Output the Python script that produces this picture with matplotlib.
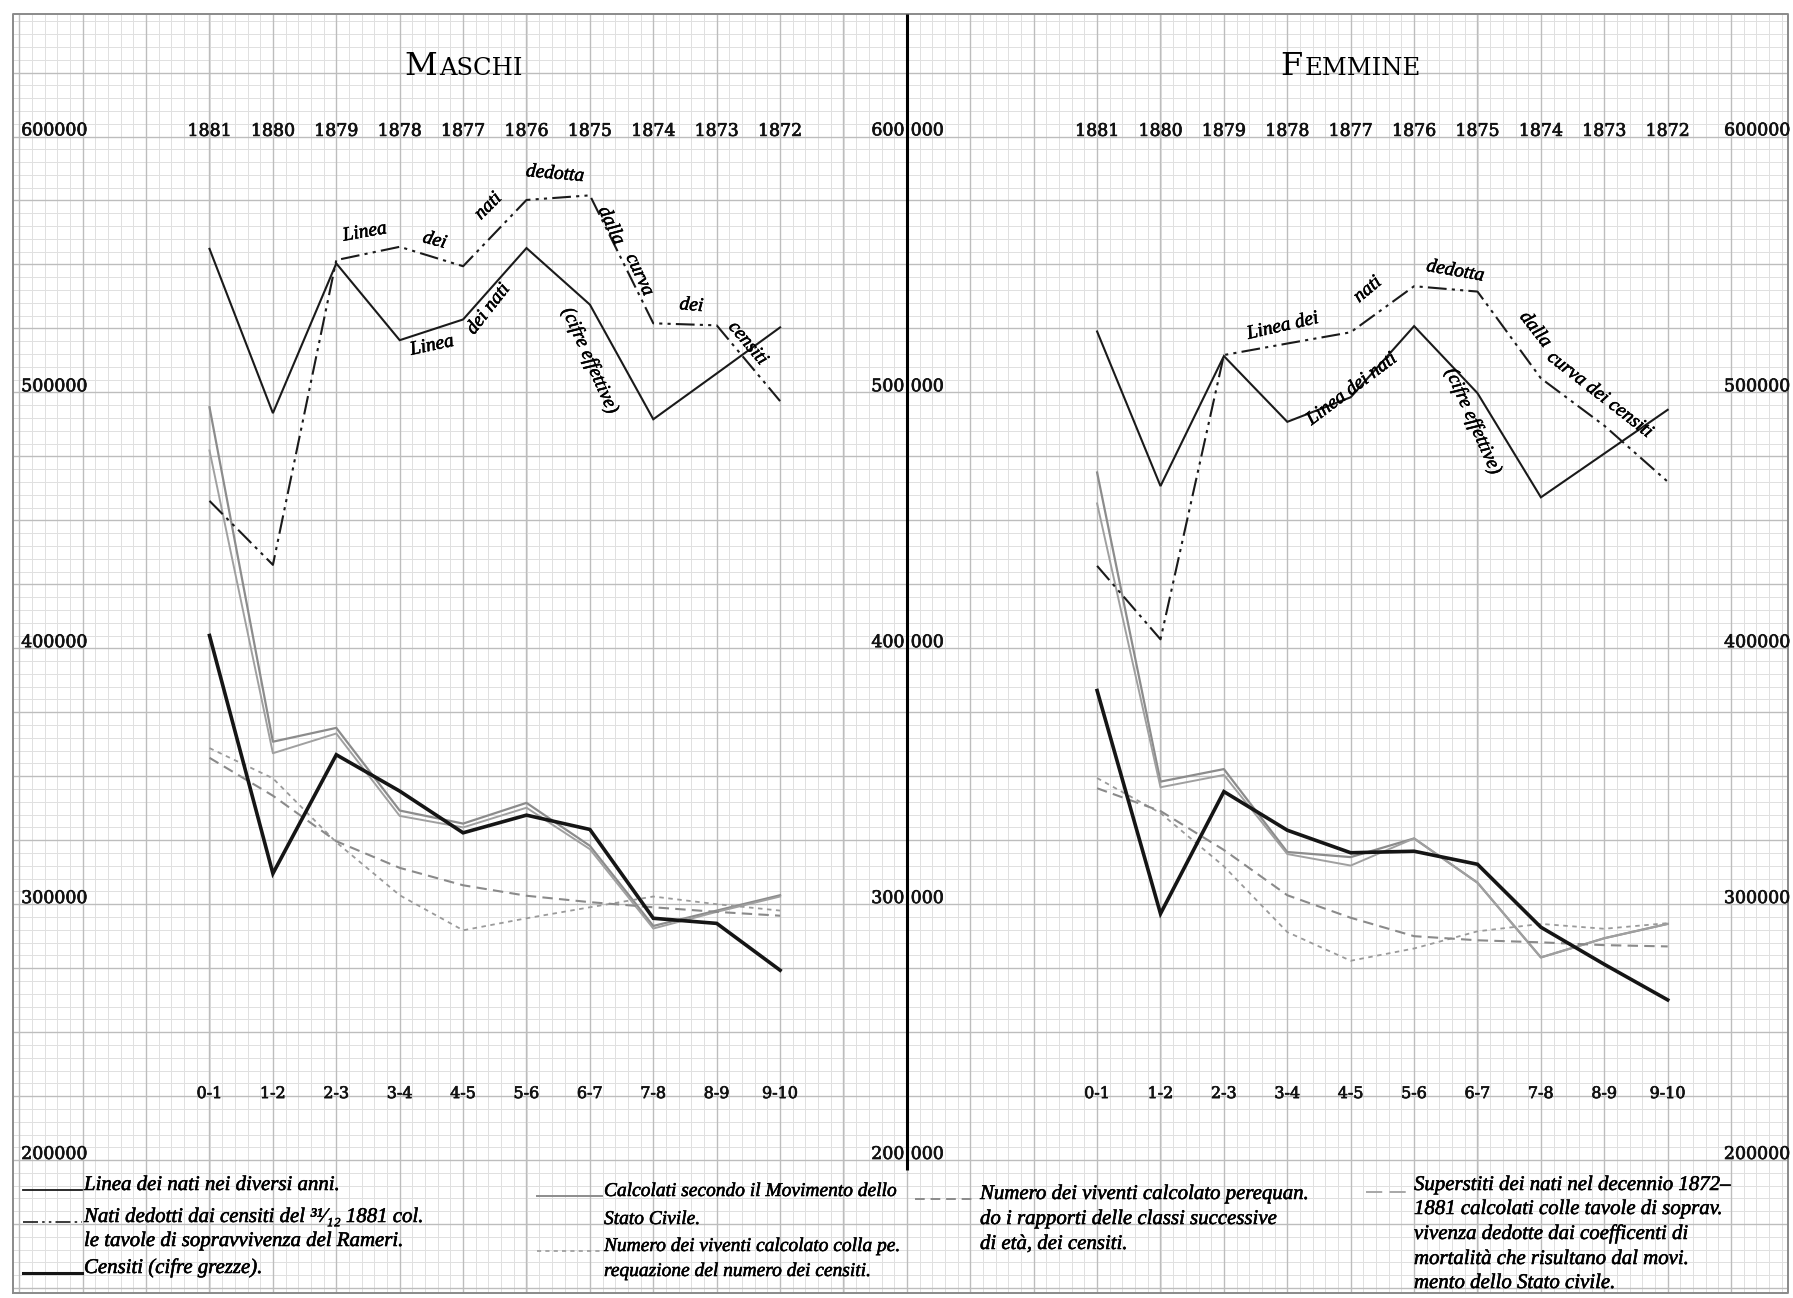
import matplotlib
matplotlib.use("Agg")
import matplotlib.pyplot as plt
import matplotlib.patheffects as pe
from matplotlib.lines import Line2D
import numpy as np

# ---------------------------------------------------------------- data
years = ["1881", "1880", "1879", "1878", "1877", "1876", "1875", "1874", "1873", "1872"]
ages = ["0-1", "1-2", "2-3", "3-4", "4-5", "5-6", "6-7", "7-8", "8-9", "9-10"]
y_ticks = [600000, 500000, 400000, 300000, 200000]

# Maschi
m_nati = [556100, 491900, 550400, 520400, 528500, 556400, 534300, 489500, 507400, 525400]
m_nati_dedotti = [457600, 432600, 551700, 556900, 549300, 575200, 577000, 527000, 526200, 496600]
m_censiti = [405000, 312000, 358400, 344200, 327900, 334800, 329200, 294500, 292500, 274200]
m_movimento = [494200, 363500, 368900, 336600, 331500, 339600, 322800, 291500, 297500, 303500]
m_superstiti = [477300, 359000, 366700, 334500, 330000, 337700, 321500, 290500, 297000, 303000]
m_perequazione = [361000, 349200, 324200, 303500, 289800, 294500, 298800, 303000, 300000, 297500]
m_rapporti = [357200, 342400, 324600, 314200, 307400, 303300, 300800, 298800, 297000, 295500]

# Femmine
f_nati = [523800, 463400, 514200, 488500, 498100, 525900, 499700, 459000, 476100, 493200]
f_nati_dedotti = [432200, 403500, 514600, 519100, 523500, 541500, 539400, 505500, 487000, 465100]
f_censiti = [383500, 296300, 344000, 328900, 320100, 320700, 315600, 291000, 276500, 262600]
f_movimento = [468700, 347900, 352800, 320400, 318400, 325700, 308400, 279200, 286700, 292300]
f_superstiti = [456600, 345700, 350500, 319600, 315100, 325700, 308400, 279200, 286700, 292300]
f_perequazione = [349300, 335600, 314800, 289100, 277900, 282700, 289400, 292300, 290400, 292600]
f_rapporti = [345300, 336400, 321200, 303500, 294700, 287500, 285900, 285100, 284000, 283500]

# ---------------------------------------------------------------- page geometry
W, H, DPI = 1793, 1298, 100
CELL = 63.4            # pixels per major square (one year / age class)
X_ORIGIN = 209.5       # pixel column of the first class of the left panel
PX_PER_100K = 255.9    # vertical pixels per 100 000 inhabitants
Y600_PX = 136.5        # pixel row of the 600 000 line
RIGHT_OFFSET = 14      # squares between the two panels

x0 = -X_ORIGIN / CELL
x1 = x0 + W / CELL
y1 = 600000 + Y600_PX / PX_PER_100K * 1e5
y0 = y1 - H / PX_PER_100K * 1e5

fig = plt.figure(figsize=(W / DPI, H / DPI), dpi=DPI)
fig.patch.set_facecolor("white")
ax = fig.add_axes([0, 0, 1, 1])
ax.set_xlim(x0, x1)
ax.set_ylim(y0, y1)
ax.axis("off")

SERIF = ["DejaVu Serif"]
SCRIPT = ["Liberation Serif", "DejaVu Serif"]
INK = [pe.withStroke(linewidth=0.5, foreground="#111111")]

# ---------------------------------------------------------------- graph paper
gx_lo, gx_hi = -3.1, 24.9
gy_lo, gy_hi = 148000, 648000
minor_x = np.arange(-3.0, 24.95, 0.2)
major_x = np.arange(-3, 25, 1)
minor_y = np.arange(150000, 648001, 5000)
major_y = np.arange(150000, 648001, 25000)
ax.vlines(minor_x, gy_lo, gy_hi, color="#e0e0e0", lw=0.7, zorder=0)
ax.hlines(minor_y, gx_lo, gx_hi, color="#e0e0e0", lw=0.7, zorder=0)
ax.vlines(major_x, gy_lo, gy_hi, color="#bdbdbd", lw=1.0, zorder=0.5)
ax.hlines(major_y, gx_lo, gx_hi, color="#bdbdbd", lw=1.0, zorder=0.5)
# frame of the sheet
ax.plot([gx_lo, gx_hi, gx_hi, gx_lo, gx_lo], [gy_lo, gy_lo, gy_hi, gy_hi, gy_lo],
        color="#8a8a8a", lw=1.4, zorder=1)
# central dividing rule
ax.vlines(11, 196000, gy_hi, color="black", lw=2.2, zorder=3)

# ---------------------------------------------------------------- axis labels
num_kw = dict(family=SERIF, fontsize=12.5, va="center", color="#111111", path_effects=INK)
for v in y_ticks:
    s = f"{v}"
    ax.text(-2.97, v + 2200, s, ha="left", **num_kw)
    ax.text(24.93, v + 2200, s, ha="right", **num_kw)
    ax.text(10.96, v + 2200, s[:3], ha="right", **num_kw)
    ax.text(11.06, v + 2200, s[3:], ha="left", **num_kw)

idx = np.arange(len(years))
for off in (0, RIGHT_OFFSET):
    for i, (yr, ag) in enumerate(zip(years, ages)):
        ax.text(i + off, 602000, yr, ha="center", **num_kw)
        ax.text(i + off, 226000, ag, ha="center",
                **{**num_kw, "fontsize": 11.5})

# titles in small capitals
renderer = fig.canvas.get_renderer()
for cx, big, small in ((4.0, "M", "ASCHI"), (18.0, "F", "EMMINE")):
    t1 = ax.text(cx, 624000, big, family=SERIF, fontsize=23, ha="left", va="baseline")
    t2 = ax.text(cx, 624000, small, family=SERIF, fontsize=17.5, ha="left", va="baseline")
    w1 = t1.get_window_extent(renderer).width
    w2 = t2.get_window_extent(renderer).width
    tot = (w1 + w2 + 2) / CELL
    t1.set_x(cx - tot / 2)
    t2.set_x(cx - tot / 2 + (w1 + 2) / CELL)

# ---------------------------------------------------------------- series
DASHDOT = (0, (9, 2.5, 1.5, 2.5, 1.5, 2.5))
GREY = "#8c8c8c"

def draw_panel(off, nati, dedotti, censiti, movimento, superstiti, pereq, rapporti):
    xs = idx + off
    ax.plot(xs, nati, color="#1a1a1a", lw=1.5, zorder=5, solid_joinstyle="miter")
    ax.plot(xs, dedotti, color="#1a1a1a", lw=1.5, linestyle=DASHDOT, zorder=5)
    ax.plot(xs, movimento, color=GREY, lw=1.6, zorder=4)
    ax.plot(xs, superstiti, color="#a0a0a0", lw=1.4, zorder=4)
    ax.plot(xs, pereq, color="#9a9a9a", lw=1.3, linestyle=(0, (2.5, 2.5)), zorder=4)
    ax.plot(xs, rapporti, color="#8a8a8a", lw=1.5, linestyle=(0, (5, 3)), zorder=4)
    ax.plot(xs, censiti, color="#151515", lw=2.6, zorder=6, solid_joinstyle="miter")

draw_panel(0, m_nati, m_nati_dedotti, m_censiti, m_movimento, m_superstiti,
           m_perequazione, m_rapporti)
draw_panel(RIGHT_OFFSET, f_nati, f_nati_dedotti, f_censiti, f_movimento, f_superstiti,
           f_perequazione, f_rapporti)

# ---------------------------------------------------------------- notes along the lines
notes = [
    # Maschi
    (2.45, 562500, "Linea", 10),
    (3.55, 559300, "dei", -15),
    (4.40, 572700, "nati", 45),
    (5.45, 585300, "dedotta", -5),
    (6.33, 565100, "dalla", -65),
    (6.78, 545900, "curva", -65),
    (7.60, 533900, "dei", -5),
    (8.49, 519100, "censiti", -50),
    (3.51, 518200, "Linea", 12),
    (4.40, 532500, "dei nati", 52),
    (6.00, 512400, "(cifre effettive)", -66),
    # Femmine
    (RIGHT_OFFSET + 2.93, 525800, "Linea dei", 13),
    (RIGHT_OFFSET + 4.27, 540100, "nati", 40),
    (RIGHT_OFFSET + 5.65, 547300, "dedotta", -10),
    (RIGHT_OFFSET + 6.91, 524500, "dalla", -52),
    (RIGHT_OFFSET + 7.93, 499000, "curva dei censiti", -38),
    (RIGHT_OFFSET + 4.02, 501200, "Linea dei nati", 37),
    (RIGHT_OFFSET + 5.93, 488700, "(cifre effettive)", -66),
]
for x, y, s, rot in notes:
    ax.text(x, y, s, family=SCRIPT, style="italic", fontsize=14, rotation=rot,
            rotation_mode="anchor", ha="center", va="center", zorder=7,
            path_effects=[pe.withStroke(linewidth=0.4, foreground="black")])

# ---------------------------------------------------------------- key
def fpx(x, y):
    return x / W, 1 - y / H

def key_line(xa, xb, y, **kw):
    (fa, fy), (fb, _) = fpx(xa, y), fpx(xb, y)
    fig.add_artist(Line2D([fa, fb], [fy, fy], transform=fig.transFigure, **kw))

def key_text(x, y, s, size=15):
    fx, fy = fpx(x, y)
    fig.text(fx, fy, s, family=SCRIPT, style="italic", fontsize=size, ha="left",
             va="baseline", path_effects=[pe.withStroke(linewidth=0.4, foreground="black")])

key_line(23, 82, 1190, color="#1a1a1a", lw=1.3)
key_text(84, 1190, "Linea dei nati nei diversi anni.")
key_line(23, 82, 1222, color="#1a1a1a", lw=1.2, linestyle=DASHDOT)
key_text(84, 1222, "Nati dedotti dai censiti del ³¹⁄₁₂ 1881 col.")
key_text(84, 1246, "le tavole di sopravvivenza del Rameri.")
key_line(23, 82, 1273, color="#151515", lw=2.2)
key_text(84, 1273, "Censiti (cifre grezze).")

key_line(537, 602, 1196, color=GREY, lw=1.4)
key_text(604, 1196, "Calcolati secondo il Movimento dello", 14)
key_text(604, 1224, "Stato Civile.", 14)
key_line(537, 602, 1251, color="#9a9a9a", lw=1.2, linestyle=(0, (2.5, 2.5)))
key_text(604, 1251, "Numero dei viventi calcolato colla pe.", 14)
key_text(604, 1276, "requazione del numero dei censiti.", 14)

key_line(915, 977, 1199, color="#8a8a8a", lw=1.4, linestyle=(0, (5, 3)))
key_text(980, 1199, "Numero dei viventi calcolato perequan.")
key_text(980, 1224, "do i rapporti delle classi successive")
key_text(980, 1249, "di età, dei censiti.")

key_line(1366, 1410, 1192, color="#a0a0a0", lw=1.3, linestyle=(0, (9, 4)))
key_text(1414, 1190, "Superstiti dei nati nel decennio 1872–")
key_text(1414, 1214, "1881 calcolati colle tavole di soprav.")
key_text(1414, 1239, "vivenza dedotte dai coefficenti di")
key_text(1414, 1264, "mortalità che risultano dal movi.")
key_text(1414, 1288, "mento dello Stato civile.")

fig.savefig("out.png", dpi=DPI, facecolor="white")
